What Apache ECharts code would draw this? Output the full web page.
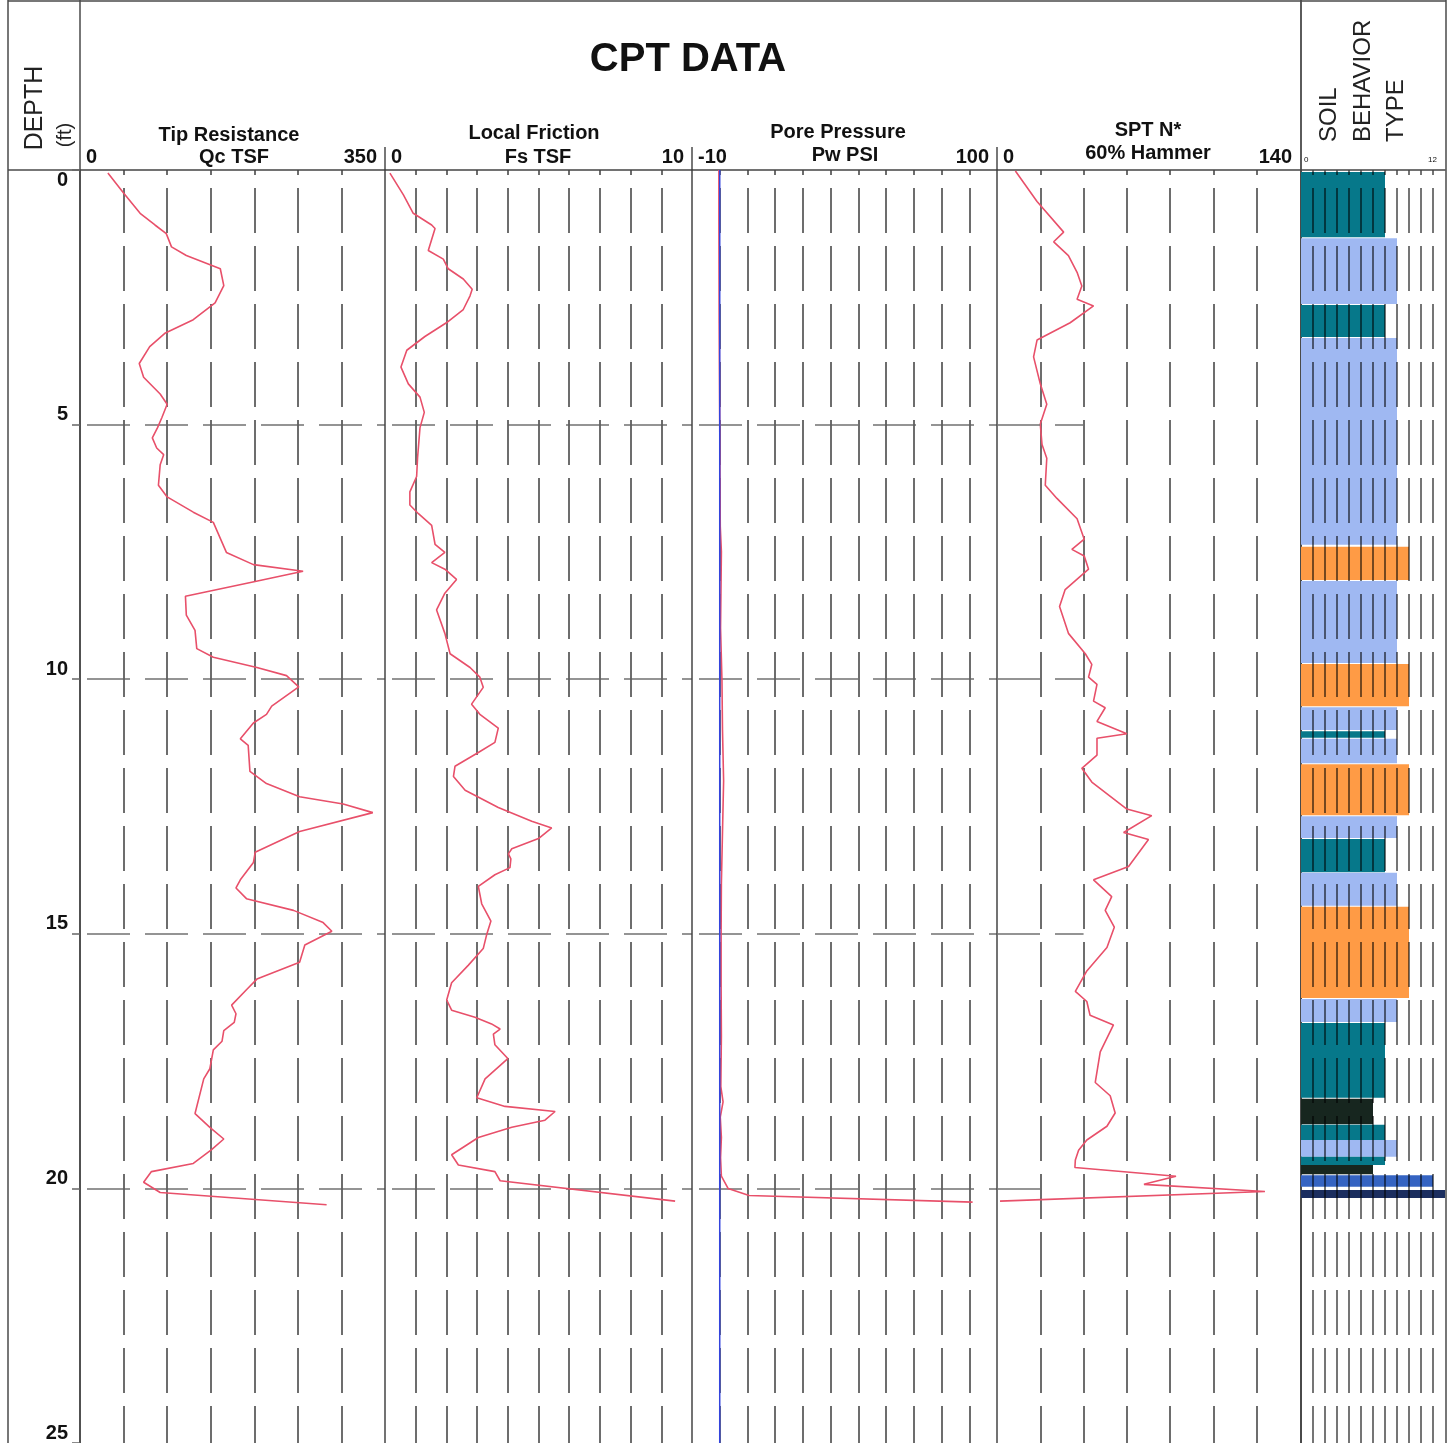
<!DOCTYPE html>
<html>
<head>
<meta charset="utf-8">
<title>CPT DATA</title>
<script src="https://cdn.jsdelivr.net/npm/echarts@6.0.0/dist/echarts.min.js"></script>
<style>
  html, body { margin: 0; padding: 0; background: #ffffff; }
  #chart { width: 1452px; height: 1443px; }
</style>
</head>
<body>
<div id="chart"></div>
<script>
// ---- Cone penetration log, depth in feet ----

// Tip resistance Qc (TSF)
const tipDepth = [0.06,0.45,0.85,1.08,1.25,1.51,1.68,1.94,2.27,2.61,2.94,3.2,3.47,3.8,4.07,4.4,4.6,4.86,5.06,5.26,5.46,5.59,5.79,6.19,6.42,6.72,6.92,7.51,7.75,7.88,8.08,8.37,8.74,9.04,9.4,9.57,9.77,9.93,10.15,10.53,10.69,10.86,11.17,11.3,11.81,12.05,12.31,12.45,12.62,12.99,13.4,13.6,13.94,14.1,14.31,14.54,14.78,14.95,15.22,15.56,15.89,16.1,16.4,16.57,16.74,16.9,17.11,17.28,17.65,17.85,18.53,18.8,19.03,19.24,19.51,19.67,19.88,20.08,20.32];
const tipQc = [32,50,69,86,99,105,122,161,165,155,130,98,80,68,73,92,100,94,89,83,88,96,92,90,100,130,153,168,199,256,201,121,122,132,134,153,203,237,251,220,214,199,184,193,195,214,252,302,336,252,201,199,184,179,191,245,279,289,258,252,203,191,174,179,177,165,163,153,149,142,132,149,165,151,130,82,73,92,283];

// Local friction Fs (TSF)
const fricDepth = [0.06,0.49,0.85,1.08,1.15,1.58,1.75,1.94,2.14,2.34,2.47,2.74,3.0,3.27,3.54,3.87,4.2,4.46,4.76,5.06,5.66,6.02,6.32,6.58,6.75,6.98,7.35,7.51,7.71,7.84,8.04,8.31,8.64,9.1,9.5,9.77,9.96,10.16,10.49,10.69,10.96,11.24,11.44,11.71,11.91,12.18,12.52,12.79,12.92,13.13,13.33,13.43,13.53,13.7,13.84,14.07,14.41,14.75,15.02,15.29,15.62,15.96,16.3,16.5,16.64,16.77,16.87,16.97,17.18,17.45,17.85,18.22,18.39,18.49,18.66,18.8,19.0,19.34,19.54,19.67,19.85,20.25];
const fricFs = [0.16,0.6,0.92,1.52,1.63,1.41,1.9,2.06,2.55,2.84,2.77,2.55,2.0,1.3,0.71,0.52,0.76,1.14,1.28,1.14,1.06,1.03,0.81,0.81,1.09,1.52,1.63,1.95,1.52,1.95,2.33,1.95,1.68,1.95,2.12,2.77,3.09,3.2,2.82,3.09,3.69,3.58,3.04,2.28,2.23,2.61,3.69,4.78,5.43,5.0,4.13,4.02,4.1,4.07,3.58,3.04,3.15,3.45,3.31,3.2,2.71,2.17,2.01,2.17,2.93,3.47,3.75,3.53,3.58,4.0,3.26,2.99,3.91,5.54,5.21,4.13,3.04,2.17,2.39,3.58,3.75,9.45];

// Pore pressure Pw (PSI) and the equilibrium line
const poreDepth = [0,1,3,5,7,7.5,9,10,11,12,13,14,15,16,17,18,18.3,18.6,19,19.4,19.76,20.0,20.14,20.27];
const porePw = [-0.3,-0.3,-0.2,0,0.2,0.6,0.3,0.8,1.0,1.4,1.0,0.6,0.5,0.5,0.6,0.4,1.2,0.2,0.6,0.3,0.6,3,10.6,91.2];
const eqDepth = [0, 25];
const eqPw = [0, 0];

// SPT N* (60% hammer)
const sptDepth = [0.02,0.62,1.22,1.41,1.68,2.01,2.28,2.54,2.67,3.0,3.34,3.67,4.2,4.6,4.99,5.39,5.66,6.19,6.45,6.85,7.25,7.45,7.58,7.84,8.24,8.57,9.1,9.5,9.71,9.96,10.1,10.43,10.56,10.83,11.07,11.16,11.49,11.75,12.02,12.55,12.68,13.01,13.15,13.68,13.94,14.27,14.54,14.87,15.27,15.73,16.13,16.33,16.6,16.79,17.32,17.92,18.18,18.52,18.78,19.05,19.25,19.44,19.59,19.76,19.92,20.06,20.25];
const sptN = [8.5,18.5,30.8,26.2,33,37,39.2,37,44.6,33.8,18.5,16.9,20,23,20,20.8,23,22.3,27.7,37,40.3,34.6,40.3,42.3,31.5,28.9,33,40.8,43.8,42.3,46.2,44.6,50,46.2,60,46.2,46.2,39.2,43.8,60,71.5,58.5,70,60.8,44.6,53,50,54.2,50.8,41.5,36.2,41.5,43,53.8,47.7,45.4,52.3,54.6,50.8,41.5,37.7,36.2,36,82.7,67.9,123.8,1.4];

// Soil behaviour type zones (Robertson, 1-12) by depth interval
const sbtTop = [0.04,1.34,2.65,3.3,7.4,8.07,9.7,10.55,11.02,11.17,11.67,12.69,13.14,13.8,14.47,16.28,16.75,18.24,18.75,19.05,19.38,19.54,19.74,20.03];
const sbtBottom = [1.32,2.63,3.28,7.36,8.05,9.68,10.53,11.0,11.15,11.65,12.67,13.12,13.79,14.45,16.26,16.73,18.22,18.74,19.05,19.38,19.54,19.72,19.97,20.19];
const sbtZone = [7,8,7,8,9,8,9,8,7,8,9,8,7,8,9,8,7,6,7,8,7,6,11,12];

// Depth reference lines drawn across part of the SPT track
const sptRefDepth = [5, 10, 15, 20];
const sptRefEnd = [40, 40, 40, 24];

// Track scales (tick labels at the ends of each track)
const tipScale = { min: 0, max: 350, interval: 50 };
const fricScale = { min: 0, max: 10, interval: 1 };
const poreScale = { min: -10, max: 100, interval: 10 };
const sptScale = { min: 0, max: 140, interval: 20 };
const sbtScale = { min: 0, max: 12, interval: 1 };
const depthScale = { min: 0, max: 25, interval: 5 };

// ---- styling ----
const FONT = '"Liberation Sans", Arial, sans-serif';
const RED = '#e8506a';
const BLUE = '#3344dd';
const INK = '#111111';
const ZONE_COLORS = { 6: '#17261f', 7: '#06788a', 8: '#9fb8f2', 9: '#ff9b45', 11: '#3564c2', 12: '#1b2e5f' };
const PLOT_TOP = 170;
const PLOT_H = 1273;

const tracks = [
  { left: 80,   width: 305, scale: tipScale },
  { left: 385,  width: 307, scale: fricScale },
  { left: 692,  width: 305, scale: poreScale },
  { left: 997,  width: 303, scale: sptScale },
  { left: 1301, width: 144, scale: sbtScale }
];

const pairs = (vals, depths) => vals.map((v, i) => [v, depths[i]]);

const vGridStyle = { color: '#5e5e5e', width: 1.8, type: [45, 13], dashOffset: 40 };
const hGridStyle = { color: '#727272', width: 1.5, type: [43, 15], dashOffset: 51 };

function xAxisFor(i, extra) {
  const s = tracks[i].scale;
  return Object.assign({
    type: 'value', gridIndex: i, position: 'top',
    min: s.min, max: s.max, interval: s.interval,
    axisLine: { show: true, onZero: false, lineStyle: { color: '#444', width: 1.5 } },
    axisTick: { show: false },
    axisLabel: {
      show: true, margin: 3, color: INK, fontFamily: FONT, fontWeight: 'bold', fontSize: 20,
      alignMinLabel: 'left', alignMaxLabel: 'right', padding: [0, 8, 0, 6],
      formatter: v => (v === s.min || v === s.max) ? String(v) : ''
    },
    splitLine: { show: true, showMinLine: false, showMaxLine: false, lineStyle: vGridStyle }
  }, extra || {});
}

function yAxisFor(i, extra) {
  return Object.assign({
    type: 'value', gridIndex: i, inverse: true, position: 'left',
    min: depthScale.min, max: depthScale.max, interval: depthScale.interval,
    axisLine: { show: true, onZero: false, lineStyle: { color: '#444', width: 1.5 } },
    axisTick: { show: false },
    axisLabel: { show: false },
    splitLine: { show: true, showMinLine: false, showMaxLine: false, lineStyle: hGridStyle }
  }, extra || {});
}

const depthLabel = { show: true, color: INK, fontFamily: FONT, fontWeight: 'bold', fontSize: 20, margin: 12 };

const xAxes = [
  xAxisFor(0), xAxisFor(1), xAxisFor(2), xAxisFor(3),
  xAxisFor(4, {
    z: 5,
    axisLabel: {
      show: true, margin: 6, color: INK, fontFamily: FONT, fontSize: 8,
      alignMinLabel: 'left', alignMaxLabel: 'right', padding: [0, 8, 0, 3],
      formatter: v => (v === sbtScale.min || v === sbtScale.max) ? String(v) : ''
    },
    splitLine: { show: true, showMinLine: false, showMaxLine: false,
      lineStyle: { color: 'rgba(0,0,0,0.6)', width: 1.8, type: [45, 13], dashOffset: 40 } }
  })
];

const yAxes = [
  yAxisFor(0, {
    axisTick: { show: true, length: 8, lineStyle: { color: '#666', width: 1.5 } },
    axisLabel: Object.assign({}, depthLabel, { verticalAlign: 'bottom', formatter: v => v === 0 ? '' : String(v) })
  }),
  yAxisFor(1),
  yAxisFor(2),
  yAxisFor(3, { splitLine: { show: false } }),
  yAxisFor(4, { splitLine: { show: false } }),
  // second depth axis on the first track: carries only the surface label
  yAxisFor(0, {
    position: 'left', offset: 0,
    axisLine: { show: false }, splitLine: { show: false },
    axisLabel: Object.assign({}, depthLabel, { verticalAlign: 'top', formatter: v => v === 0 ? '0' : '' })
  })
];

const lineSeries = (xi, data, color, width) => ({
  type: 'line', xAxisIndex: xi, yAxisIndex: xi, data: data,
  symbol: 'none', showSymbol: false, silent: true,
  lineStyle: { color: color, width: width || 1.6 }
});

const sptSeries = lineSeries(3, pairs(sptN, sptDepth), RED);
sptSeries.markLine = {
  silent: true, symbol: 'none', label: { show: false },
  lineStyle: { color: '#727272', width: 1.5, type: [43, 15] },
  data: sptRefDepth.map((d, i) => [{ coord: [0, d] }, { coord: [sptRefEnd[i], d] }])
};

const sbtSeries = {
  type: 'custom', xAxisIndex: 4, yAxisIndex: 4, silent: true,
  data: sbtZone.map((z, i) => [z, sbtTop[i], sbtBottom[i]]),
  encode: { x: 0, y: [1, 2] },
  renderItem: function (params, api) {
    const zone = api.value(0);
    const p0 = api.coord([0, api.value(1)]);
    const p1 = api.coord([zone, api.value(2)]);
    return {
      type: 'rect',
      shape: { x: p0[0], y: p0[1], width: p1[0] - p0[0], height: p1[1] - p0[1] },
      style: { fill: ZONE_COLORS[zone] || '#999' }
    };
  }
};

const txt = (text, x, y, size, weight, extra) => Object.assign({
  type: 'text', x: x, y: y, silent: true,
  style: { text: text, fill: INK, fontFamily: FONT, fontSize: size, fontWeight: weight || 'normal',
           align: 'center', verticalAlign: 'middle' }
}, extra || {});

const vText = (text, x, y, size, align) => ({
  type: 'text', x: x, y: y, silent: true, rotation: Math.PI / 2,
  style: { text: text, fill: '#222', fontFamily: FONT, fontSize: size, align: align, verticalAlign: 'middle' }
});

const rule = (x1, y1, x2, y2, w) => ({
  type: 'line', silent: true, shape: { x1: x1, y1: y1, x2: x2, y2: y2 },
  style: { stroke: '#4a4a4a', lineWidth: w || 1.5 }
});

const graphics = [
  rule(8, 1, 1446, 1),
  rule(8, 0, 8, 1443),
  rule(80, 0, 80, 1443),
  rule(1301, 0, 1301, 1443, 1.8),
  rule(1446, 0, 1446, 1443),
  rule(8, 170, 80, 170),
  rule(385, 147, 385, 170),
  rule(692, 147, 692, 170),
  rule(997, 147, 997, 170),
  txt('CPT DATA', 688, 60, 40, 'bold'),
  txt('Tip Resistance', 229, 135, 20, 'bold'),
  txt('Qc TSF', 234, 157, 20, 'bold'),
  txt('Local Friction', 534, 133, 20, 'bold'),
  txt('Fs TSF', 538, 157, 20, 'bold'),
  txt('Pore Pressure', 838, 132, 20, 'bold'),
  txt('Pw PSI', 845, 155, 20, 'bold'),
  txt('SPT N*', 1148, 130, 20, 'bold'),
  txt('60% Hammer', 1148, 153, 20, 'bold'),
  vText('DEPTH', 35, 108, 25, 'center'),
  vText('(ft)', 65, 135, 20, 'center'),
  vText('SOIL', 1329, 142, 24, 'left'),
  vText('BEHAVIOR', 1363, 142, 24, 'left'),
  vText('TYPE', 1396, 142, 24, 'left')
];

const chart = echarts.init(document.getElementById('chart'), null, { renderer: 'canvas', width: 1452, height: 1443 });
chart.setOption({
  backgroundColor: '#ffffff',
  animation: false,
  grid: tracks.map(t => ({ left: t.left, top: PLOT_TOP, width: t.width, height: PLOT_H, containLabel: false })),
  xAxis: xAxes,
  yAxis: yAxes,
  series: [
    lineSeries(0, pairs(tipQc, tipDepth), RED),
    lineSeries(1, pairs(fricFs, fricDepth), RED),
    lineSeries(2, pairs(porePw, poreDepth), RED),
    lineSeries(2, pairs(eqPw, eqDepth), BLUE, 1.5),
    sptSeries,
    sbtSeries
  ],
  graphic: graphics
});
</script>
</body>
</html>
